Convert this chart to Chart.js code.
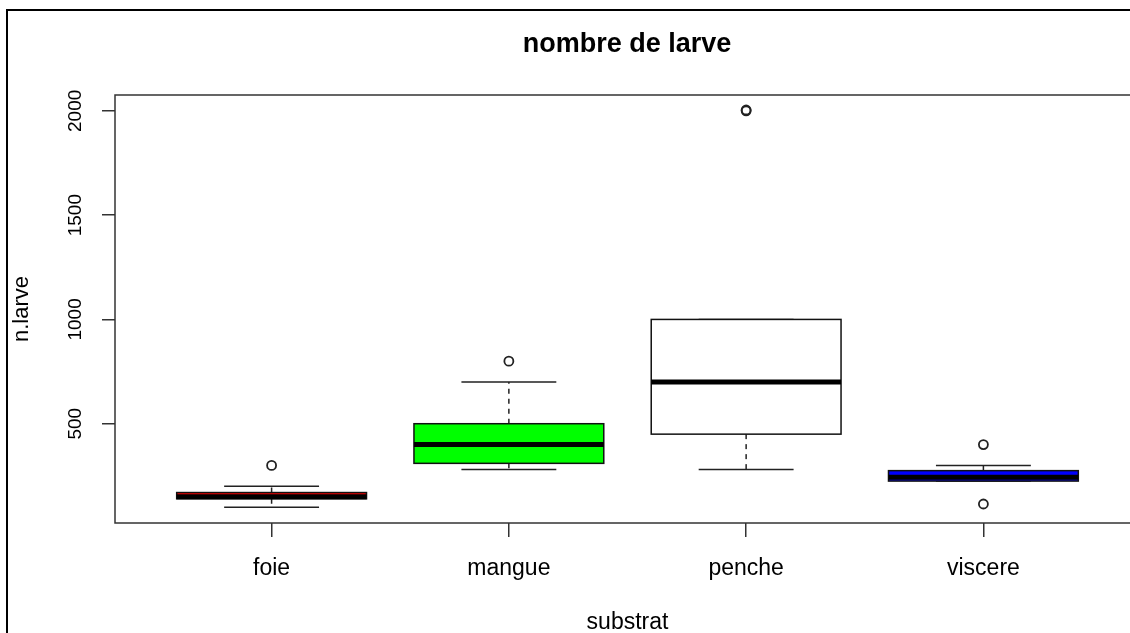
<!DOCTYPE html>
<html>
<head>
<meta charset="utf-8">
<script src="https://cdn.jsdelivr.net/npm/chart.js@4.4.1/dist/chart.umd.min.js"></script>
<style>
  html, body { margin: 0; padding: 0; background: #fff; overflow: hidden; width: 1130px; height: 633px; }
  #wrap { position: relative; width: 1130px; height: 633px; overflow: hidden; }
  #frame { position: absolute; left: 6px; top: 9px; width: 1200px; height: 700px;
           border-left: 2px solid #000; border-top: 2px solid #000; pointer-events: none; }
  canvas { position: absolute; left: 0; top: 0; }
</style>
</head>
<body>
<div id="wrap">
  <canvas id="c" width="1254" height="633" style="width:1254px;height:633px"></canvas>
  <div id="frame"></div>
</div>
<script>
// ---- data ----
const categories   = ["foie", "mangue", "penche", "viscere"];
const whiskerLow   = [100, 280, 280, 225];
const q1           = [140, 310, 450, 225];
const median       = [150, 400, 700, 243];
const q3           = [170, 500, 1000, 275];
const whiskerHigh  = [200, 700, 1000, 300];
const outliers     = [[300], [800], [2000, 2004], [400, 115]];
const yTickValues  = [500, 1000, 1500, 2000];
const boxColors    = ["#ff0000", "#00ff00", "#ffffff", "#0000ff"];

const outlierPoints = [];
outliers.forEach((list, i) => list.forEach(v => outlierPoints.push({ x: i + 1, y: v })));

const boxPlugin = {
  id: 'boxplot',
  beforeDatasetsDraw(chart) {
    const ctx = chart.ctx;
    const xs = chart.scales.x, ys = chart.scales.y;
    ctx.save();
    categories.forEach((cat, i) => {
      const xc = xs.getPixelForValue(i + 1);
      const hw = xs.getPixelForValue(i + 1.4) - xc;
      const sw = xs.getPixelForValue(i + 1.2) - xc;
      const yLo = ys.getPixelForValue(whiskerLow[i]);
      const yQ1 = ys.getPixelForValue(q1[i]);
      const yMd = ys.getPixelForValue(median[i]);
      const yQ3 = ys.getPixelForValue(q3[i]);
      const yHi = ys.getPixelForValue(whiskerHigh[i]);
      ctx.strokeStyle = '#222';
      ctx.lineWidth = 1.5;
      ctx.setLineDash([5, 5]);
      ctx.beginPath();
      if (yHi < yQ3) { ctx.moveTo(xc, yQ3); ctx.lineTo(xc, yHi); }
      if (yLo > yQ1) { ctx.moveTo(xc, yQ1); ctx.lineTo(xc, yLo); }
      ctx.stroke();
      ctx.setLineDash([]);
      ctx.beginPath();
      ctx.moveTo(xc - sw, yHi); ctx.lineTo(xc + sw, yHi);
      ctx.moveTo(xc - sw, yLo); ctx.lineTo(xc + sw, yLo);
      ctx.stroke();
      ctx.fillStyle = boxColors[i];
      ctx.fillRect(xc - hw, yQ3, 2 * hw, yQ1 - yQ3);
      ctx.strokeStyle = '#111';
      ctx.strokeRect(xc - hw, yQ3, 2 * hw, yQ1 - yQ3);
      ctx.lineWidth = 5;
      ctx.strokeStyle = '#000';
      ctx.beginPath();
      ctx.moveTo(xc - hw, yMd); ctx.lineTo(xc + hw, yMd);
      ctx.stroke();
    });
    ctx.restore();
  },
  afterDraw(chart) {
    const ctx = chart.ctx, a = chart.chartArea;
    ctx.save();
    ctx.strokeStyle = '#333';
    ctx.lineWidth = 1.5;
    ctx.strokeRect(a.left, a.top, a.right - a.left, a.bottom - a.top);
    ctx.restore();
  }
};

const FONT = '"Liberation Sans", Arial, sans-serif';

new Chart(document.getElementById('c'), {
  type: 'scatter',
  data: {
    datasets: [{
      data: outlierPoints,
      pointRadius: 4.5,
      pointBorderWidth: 1.8,
      pointBorderColor: '#222',
      pointBackgroundColor: 'rgba(0,0,0,0)',
      pointHoverRadius: 4.5
    }]
  },
  options: {
    responsive: false,
    animation: false,
    events: [],
    layout: { padding: 0 },
    plugins: {
      legend: { display: false },
      tooltip: { enabled: false },
      title: {
        display: true,
        text: 'nombre de larve',
        color: '#000',
        font: { family: FONT, size: 27, weight: 'bold' },
        padding: { top: 28, bottom: 34.6 }
      }
    },
    scales: {
      x: {
        type: 'linear',
        position: 'bottom',
        min: 0.34,
        max: 4.66,
        afterBuildTicks: (s) => { s.ticks = categories.map((c, i) => ({ value: i + 1 })); },
        afterFit: (s) => { s.height = 110; },
        ticks: {
          callback: (v) => categories[Math.round(v) - 1],
          color: '#000',
          padding: 18,
          maxRotation: 0,
          autoSkip: false,
          font: { family: FONT, size: 23 }
        },
        grid: { display: true, drawOnChartArea: false, drawTicks: true, tickLength: 14, color: '#333', lineWidth: 1.5 },
        border: { display: false },
        title: {
          display: true,
          text: 'substrat',
          color: '#000',
          font: { family: FONT, size: 23 },
          padding: { top: 0, bottom: -3 }
        }
      },
      y: {
        type: 'linear',
        position: 'left',
        min: 24,
        max: 2076,
        afterBuildTicks: (s) => { s.ticks = yTickValues.map(v => ({ value: v })); },
        afterFit: (s) => { s.width = 115; },
        ticks: {
          callback: (v) => String(v),
          color: '#000',
          minRotation: 90,
          maxRotation: 90,
          crossAlign: 'center',
          padding: 5,
          autoSkip: false,
          font: { family: FONT, size: 19 }
        },
        grid: { display: true, drawOnChartArea: false, drawTicks: true, tickLength: 13, color: '#333', lineWidth: 1.5 },
        border: { display: false },
        title: {
          display: true,
          text: 'n.larve',
          color: '#000',
          font: { family: FONT, size: 22 },
          padding: { top: 9, bottom: 0 }
        }
      },
      yRight: {
        type: 'linear',
        position: 'right',
        display: true,
        afterFit: (s) => { s.width = 114; },
        ticks: { display: false },
        grid: { display: false },
        border: { display: false },
        title: { display: false }
      }
    }
  },
  plugins: [boxPlugin]
});
</script>
</body>
</html>
